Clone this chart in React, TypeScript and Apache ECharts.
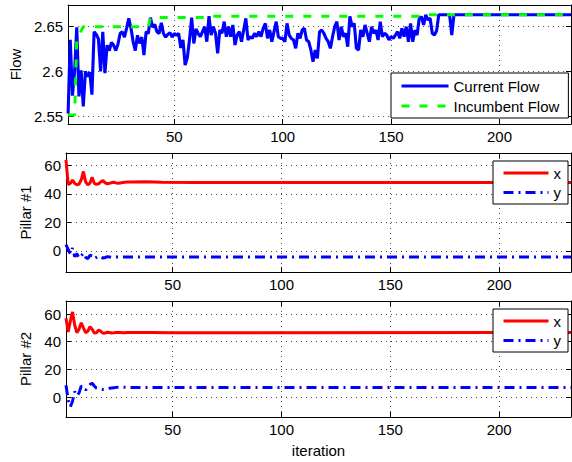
import React, { useEffect, useRef } from "react";
import * as echarts from "echarts";

const FONT = "Liberation Sans";

// Top panel: current flow per iteration (iterations 1..179), then flat
const currentFlow = [
  2.553, 2.635, 2.573, 2.6, 2.649, 2.572, 2.601, 2.561, 2.6, 2.594,
  2.599, 2.574, 2.644, 2.641, 2.636, 2.6, 2.644, 2.598, 2.629, 2.623,
  2.632, 2.629, 2.623, 2.63, 2.642, 2.644, 2.638, 2.648, 2.659, 2.648,
  2.633, 2.623, 2.64, 2.631, 2.638, 2.618, 2.644, 2.642, 2.6597, 2.649,
  2.652, 2.644, 2.642, 2.654, 2.642, 2.638, 2.641, 2.643, 2.638, 2.642,
  2.64, 2.642, 2.626, 2.635, 2.607, 2.615, 2.635, 2.6597, 2.631, 2.647,
  2.642, 2.6385, 2.644, 2.6496, 2.6329, 2.6612, 2.6403, 2.6496, 2.6422, 2.62,
  2.6459, 2.6422, 2.6552, 2.6385, 2.6496, 2.6385, 2.6515, 2.6292, 2.6403, 2.6441,
  2.6329, 2.6459, 2.6589, 2.6348, 2.6385, 2.6366, 2.6422, 2.6385, 2.6441, 2.6385,
  2.6478, 2.6533, 2.6366, 2.6459, 2.6329, 2.6441, 2.6552, 2.6385, 2.6366, 2.6366,
  2.6329, 2.6533, 2.6403, 2.6366, 2.6348, 2.6255, 2.6422, 2.6366, 2.6459, 2.6478,
  2.6348, 2.6329, 2.6237, 2.6107, 2.6237, 2.6144, 2.6441, 2.6459, 2.6422, 2.6366,
  2.6329, 2.6255, 2.6385, 2.6496, 2.6552, 2.6348, 2.6496, 2.6385, 2.6422, 2.6274,
  2.661, 2.6496, 2.6533, 2.6255, 2.6237, 2.6459, 2.6385, 2.6515, 2.6422, 2.6329,
  2.6496, 2.6422, 2.6459, 2.6348, 2.6552, 2.6385, 2.6422, 2.6403, 2.6348, 2.6385,
  2.6366, 2.6403, 2.6441, 2.6366, 2.6478, 2.6385, 2.6496, 2.6329, 2.6533, 2.6329,
  2.6459, 2.6403, 2.6589, 2.6607, 2.6515, 2.6628, 2.657, 2.6589, 2.6422, 2.6403,
  2.645, 2.6628, 2.6628, 2.6628, 2.6628, 2.6628, 2.6628, 2.6403, 2.6628,
];
const currentFlowTail = [[233, 2.6628]];

// Incumbent (best so far) flow, as [iteration, value] breakpoints
const incumbentFlow = [
  [1, 2.5514], [4, 2.5514], [5, 2.635], [8, 2.6496], [38, 2.6496], [39, 2.6597],
  [65, 2.6597], [66, 2.6612], [165, 2.6612], [166, 2.6628], [233, 2.6628],
];

// Pillar #1 (iterations 1..30) then settled breakpoints
const pillar1X = [
  64, 46.5, 47.5, 49.8, 47.5, 46.4, 47, 50, 55.8, 48.5,
  46.5, 47.5, 51.8, 47.5, 46.8, 47.2, 48.5, 49.4, 47.8, 47.2,
  47.5, 48, 48.2, 47.8, 47.6, 47.8, 48, 48.2, 48.4, 48.5,
];
const pillar1XTail = [[38, 48.6], [45, 48.3], [60, 48.1], [233, 48.0]];
const pillar1Y = [
  4.5, 1, -2, 2, -4, -2, -5, -3.5, -1.5, -4.5,
  -5.5, -3, -3.5, -5.5, -4.5, -3.5, -4.2, -5, -4.6, -4,
  -4.2, -4.6, -4.4, -4.2, -4.3, -4.4, -4.3, -4.2, -4.2, -4.2,
];
const pillar1YTail = [[233, -4.2]];

// Pillar #2
const pillar2X = [
  57, 47, 55, 61.5, 52, 46.5, 49, 53.7, 50, 46.5,
  47.5, 50.9, 49, 46.2, 46.5, 48.5, 47.5, 46.1, 46.3, 46.8,
  46.7, 46.3, 46.4, 46.6, 46.7, 46.6, 46.5, 46.5, 46.6, 46.6,
];
const pillar2XTail = [[40, 46.6], [50, 46.5], [233, 46.6]];
const pillar2Y = [
  8.5, -2, -7, -3, 4, 1, 3, 8, 7, 5,
  7, 9, 10, 8, 6.5, 6, 5.8, 5.5, 5.5, 5.8,
  6.3, 6.6, 6.8, 7, 7.1, 7.2, 7.2, 7.1, 7.1, 7,
];
const pillar2YTail = [[233, 6.9]];

const xTicks = [50, 100, 150, 200];
const flowTicks = [2.55, 2.6, 2.65];
const pillarTicks = [0, 20, 40, 60];

const X_MIN = 1;
const X_MAX = 233;

function toPairs(values: number[], tail: number[][]) {
  const pts: number[][] = values.map((v, i) => [i + 1, v]);
  return pts.concat(tail);
}

const gridLine = { show: true, lineStyle: { color: "#444", type: [1, 4], width: 1 } };
const axisLineStyle = { show: true, onZero: false, lineStyle: { color: "#000", width: 1 } };
const labelStyle = { color: "#000", fontSize: 15, fontFamily: FONT };

function xAxes(gridIndex: number, name?: string) {
  return [
    {
      type: "value", gridIndex, min: X_MIN, max: X_MAX, position: "bottom",
      axisLine: axisLineStyle,
      axisTick: { show: true, inside: true, length: 5, customValues: xTicks, lineStyle: { color: "#000" } },
      axisLabel: { show: true, customValues: xTicks, margin: 5, ...labelStyle },
      splitLine: gridLine,
      name: name || "",
      nameLocation: "middle",
      nameGap: 26,
      nameTextStyle: { ...labelStyle },
    },
    {
      type: "value", gridIndex, min: X_MIN, max: X_MAX, position: "top",
      axisLine: axisLineStyle,
      axisTick: { show: true, inside: true, length: 5, customValues: xTicks, lineStyle: { color: "#000" } },
      axisLabel: { show: false },
      splitLine: { show: false },
    },
  ];
}

function yAxes(gridIndex: number, min: number, max: number, ticks: number[], name: string, nameGap: number) {
  return [
    {
      type: "value", gridIndex, min, max, position: "left",
      axisLine: axisLineStyle,
      axisTick: { show: true, inside: true, length: 5, customValues: ticks, lineStyle: { color: "#000" } },
      axisLabel: { show: true, customValues: ticks, margin: 5, ...labelStyle },
      splitLine: gridLine,
      name, nameLocation: "middle", nameGap,
      nameTextStyle: { ...labelStyle },
    },
    {
      type: "value", gridIndex, min, max, position: "right",
      axisLine: axisLineStyle,
      axisTick: { show: true, inside: true, length: 5, customValues: ticks, lineStyle: { color: "#000" } },
      axisLabel: { show: false },
      splitLine: { show: false },
    },
  ];
}

const legendBase = {
  orient: "vertical",
  backgroundColor: "#fff",
  borderColor: "#000",
  borderWidth: 1,
  borderRadius: 0,
  itemHeight: 14,
  itemStyle: { opacity: 0, borderWidth: 0 },
  lineStyle: { width: 3 },
  textStyle: { ...labelStyle },
  selectedMode: false,
};

export default function App() {
  const ref = useRef<HTMLDivElement>(null);
  useEffect(() => {
    if (!ref.current) return;
    const chart = echarts.init(ref.current, undefined, { renderer: "svg" });
    const solid = (color: string, width = 3) => ({ color, width, type: "solid" });
    const dashDot = { color: "#0000ff", width: 3, type: [10, 5, 2, 5] };
    chart.setOption({
      animation: false,
      backgroundColor: "#fff",
      grid: [
        { left: 66, top: 5, width: 505, height: 119 },
        { left: 66, top: 153, width: 505, height: 119 },
        { left: 66, top: 301, width: 505, height: 116 },
      ],
      xAxis: [...xAxes(0), ...xAxes(1), ...xAxes(2, "iteration")],
      yAxis: [
        ...yAxes(0, 2.5414, 2.6737, flowTicks, "Flow", 45),
        ...yAxes(1, -14.8, 68.8, pillarTicks, "Pillar #1", 32),
        ...yAxes(2, -14.4, 69.4, pillarTicks, "Pillar #2", 32),
      ],
      legend: [
        {
          ...legendBase, left: 391, top: 73, padding: [5.5, 9, 4.5, 9], itemGap: 5, itemWidth: 47,
          data: ["Current Flow", "Incumbent Flow"],
        },
        {
          ...legendBase, left: 493, top: 161, padding: [4.5, 7, 4, 9], itemGap: 4.5, itemWidth: 45,
          data: ["x", "y"],
        },
        {
          ...legendBase, left: 493, top: 309, padding: [4.5, 7, 4, 9], itemGap: 4.5, itemWidth: 45,
          data: ["x", "y"],
        },
      ],
      series: [
        {
          name: "Current Flow", type: "line", xAxisIndex: 0, yAxisIndex: 0,
          data: toPairs(currentFlow, currentFlowTail), symbol: "none", showSymbol: false,
          lineStyle: solid("#0000ff", 3.1), itemStyle: { color: "#0000ff" },
        },
        {
          name: "Incumbent Flow", type: "line", xAxisIndex: 0, yAxisIndex: 0,
          data: incumbentFlow, symbol: "none", showSymbol: false,
          lineStyle: { color: "#00ff00", width: 3, type: [8, 10] }, itemStyle: { color: "#00ff00" },
        },
        {
          name: "x", type: "line", xAxisIndex: 2, yAxisIndex: 2,
          data: toPairs(pillar1X, pillar1XTail), symbol: "none", showSymbol: false,
          lineStyle: solid("#ff0000"), itemStyle: { color: "#ff0000" },
        },
        {
          name: "y", type: "line", xAxisIndex: 2, yAxisIndex: 2,
          data: toPairs(pillar1Y, pillar1YTail), symbol: "none", showSymbol: false,
          lineStyle: dashDot, itemStyle: { color: "#0000ff" },
        },
        {
          name: "x", type: "line", xAxisIndex: 4, yAxisIndex: 4,
          data: toPairs(pillar2X, pillar2XTail), symbol: "none", showSymbol: false,
          lineStyle: solid("#ff0000"), itemStyle: { color: "#ff0000" },
        },
        {
          name: "y", type: "line", xAxisIndex: 4, yAxisIndex: 4,
          data: toPairs(pillar2Y, pillar2YTail), symbol: "none", showSymbol: false,
          lineStyle: dashDot, itemStyle: { color: "#0000ff" },
        },
      ],
    });
    return () => chart.dispose();
  }, []);
  return (
    <div
      ref={ref}
      style={{ position: "absolute", left: 0, top: 0, width: 572, height: 462 }}
    />
  );
}
